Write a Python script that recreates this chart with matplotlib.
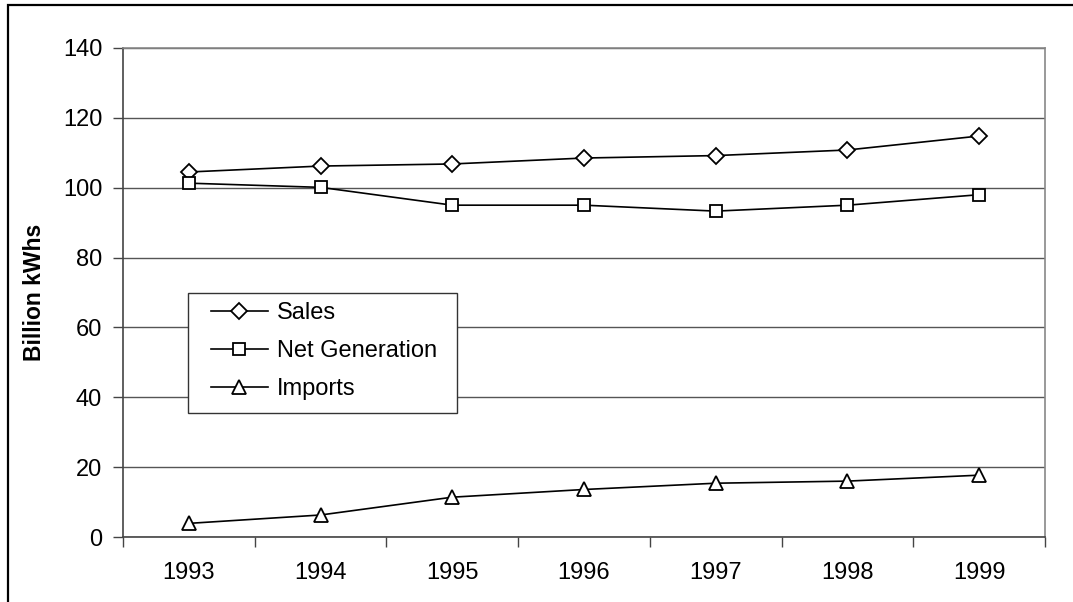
import numpy as np
import matplotlib
matplotlib.use('Agg')
import matplotlib.pyplot as plt
from matplotlib.patches import Rectangle

years = ["1993", "1994", "1995", "1996", "1997", "1998", "1999"]
sales = [104.5, 106.2, 106.8, 108.5, 109.2, 110.8, 114.8]
net_generation = [101.3, 100.1, 95.0, 95.0, 93.3, 95.0, 98.0]
imports = [3.9, 6.3, 11.4, 13.6, 15.4, 16.0, 17.7]

plt.rcParams['font.family'] = ['Liberation Sans', 'DejaVu Sans']

W, H = 1073, 602
fig = plt.figure(figsize=(W / 100, H / 100), dpi=100)
fig.patch.set_facecolor('white')

# outer chart border (clipped at right and bottom like the source)
fig.patches.append(Rectangle((8 / W, -0.1), 1.2, 1 - 5 / H + 0.1,
                             transform=fig.transFigure, fill=False,
                             edgecolor='black', linewidth=1.6))

ax = fig.add_axes([123 / W, 65 / H, (1045 - 123) / W, (537 - 48) / H])

x = np.arange(len(years))
line_kw = dict(color='black', linewidth=1.2, markerfacecolor='white',
               markeredgecolor='black', markeredgewidth=1.3)
ax.plot(x, sales, marker='D', markersize=8, label='Sales', **line_kw)
ax.plot(x, net_generation, marker='s', markersize=8.5, label='Net Generation', **line_kw)
ax.plot(x, imports, marker='^', markersize=9.5, label='Imports', **line_kw)

ax.set_xlim(-0.5, len(years) - 0.5)
ax.set_ylim(0, 140)
ax.set_yticks(np.arange(0, 141, 20))
ax.set_xticks(x)
ax.set_xticklabels(years)
ax.set_xticks(np.arange(-0.5, len(years), 1), minor=True)
ax.tick_params(axis='x', which='major', length=0, pad=18, labelsize=17)
ax.tick_params(axis='x', which='minor', length=7, width=1, color='#444444', direction='out')
ax.tick_params(axis='y', length=7, width=1, color='#444444', direction='out', pad=8, labelsize=17)

ax.grid(True, axis='y', color='#555555', linewidth=1)
ax.set_axisbelow(True)
for side in ['left', 'bottom']:
    ax.spines[side].set_color('#444444')
    ax.spines[side].set_linewidth(1.2)
for side in ['top', 'right']:
    ax.spines[side].set_color('#888888')
    ax.spines[side].set_linewidth(1.2)

ax.set_ylabel('Billion kWhs', fontsize=16.5, fontweight='bold', labelpad=12)

# legend box drawn separately so the padding can match the source
ax.add_patch(Rectangle((188 / W, 1 - 413 / H), (457 - 188) / W, 120 / H,
                       transform=fig.transFigure, facecolor='white',
                       edgecolor='#333333', linewidth=1.0, zorder=4.5,
                       clip_on=False))
leg = ax.legend(loc='upper left', bbox_to_anchor=(211 / W, 1 - 302 / H),
                bbox_transform=fig.transFigure, borderaxespad=0, borderpad=0,
                frameon=False, fontsize=17, handlelength=2.4,
                handletextpad=0.4, labelspacing=0.68)
leg.set_zorder(6)

fig.savefig('out.png', dpi=100, facecolor='white')
